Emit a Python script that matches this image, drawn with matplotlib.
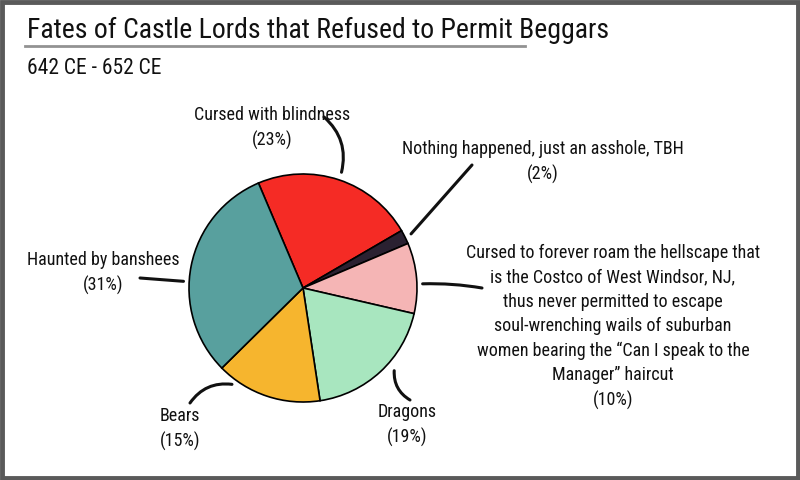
import numpy as np
import matplotlib
matplotlib.use("Agg")
import matplotlib.pyplot as plt
from matplotlib.patches import Rectangle
from matplotlib.lines import Line2D

# data
labels = [
    "Cursed with blindness",
    "Nothing happened, just an asshole, TBH",
    "Cursed to forever roam the hellscape that\nis the Costco of West Windsor, NJ,\nthus never permitted to escape\nsoul-wrenching wails of suburban\nwomen bearing the \u201cCan I speak to the\nManager\u201d haircut",
    "Dragons",
    "Bears",
    "Haunted by banshees",
]
shares = [23, 2, 10, 19, 15, 31]
colors = ["#f52b25", "#2a2131", "#f5b5b5", "#a8e6bf", "#f6b52e", "#58a09e"]

title = "Fates of Castle Lords that Refused to Permit Beggars"
subtitle = "642 CE - 652 CE"

plt.rcParams["font.family"] = ["Roboto Condensed", "Roboto", "DejaVu Sans"]

W, H = 800, 480
fig = plt.figure(figsize=(8, 4.8), dpi=100)
fig.patch.set_facecolor("white")


def px(x, y):
    return (x / W, 1 - y / H)


# pie: centre (303, 288), radius 114 px
cx, cy, r = 303, 288, 114
ax = fig.add_axes([(cx - r) / W, (H - cy - r) / H, 2 * r / W, 2 * r / H])
wedges, _ = ax.pie(shares, colors=colors, startangle=113, counterclock=False,
                   radius=1, wedgeprops=dict(edgecolor="black", linewidth=1.2))
ax.set_xlim(-1, 1)
ax.set_ylim(-1, 1)
ax.set_aspect("auto")
ax.axis("off")
for w in wedges:
    w.set_clip_on(False)

# label text centres (px), connector start near the label (px), curve, angle shift (deg)
text_pos = [(272, 128), (543, 162), (613, 327), (407, 425), (180, 429), (103, 273)]
conn_start = [(324, 117), (472, 165), (482, 288), (410, 400), (190, 403), (140, 278)]
conn_end_r = [1.07, 1.06, 1.05, 1.08, 1.05, 1.05]
conn_rad = [-0.3, 0.0, 0.05, -0.3, -0.3, 0.0]
ang_shift = [0, 0, -3, 5, -18, 8]

for i, w in enumerate(wedges):
    mid = np.deg2rad((w.theta1 + w.theta2) / 2 + ang_shift[i])
    pct = "(%d%%)" % shares[i]
    tx, ty = text_pos[i]
    fig.text(tx / W, 1 - ty / H, labels[i] + "\n" + pct, ha="center", va="center",
             fontsize=13, linespacing=1.45, color="#111111")
    ax.annotate("", xy=(conn_end_r[i] * np.cos(mid), conn_end_r[i] * np.sin(mid)),
                xycoords="data", xytext=px(*conn_start[i]),
                textcoords="figure fraction", annotation_clip=False,
                arrowprops=dict(arrowstyle="-", color="#111111", lw=2.2,
                                shrinkA=0, shrinkB=0,
                                connectionstyle="arc3,rad=%s" % conn_rad[i]))

# title, underline and subtitle
fig.text(27 / W, 1 - 30 / H, title, ha="left", va="center", fontsize=20, color="#111111")
fig.add_artist(Line2D([25 / W, 525 / W], [1 - 46 / H, 1 - 46 / H], color="#777777",
                      lw=2, alpha=0.8))
fig.text(27 / W, 1 - 69 / H, subtitle, ha="left", va="center", fontsize=15.5, color="#111111")

# frame
frame = Rectangle((0.003, 0.004), 0.994, 0.992, transform=fig.transFigure,
                  fill=False, edgecolor="#5a5a5a", lw=3.5)
fig.add_artist(frame)

fig.savefig("out.png", dpi=100)
